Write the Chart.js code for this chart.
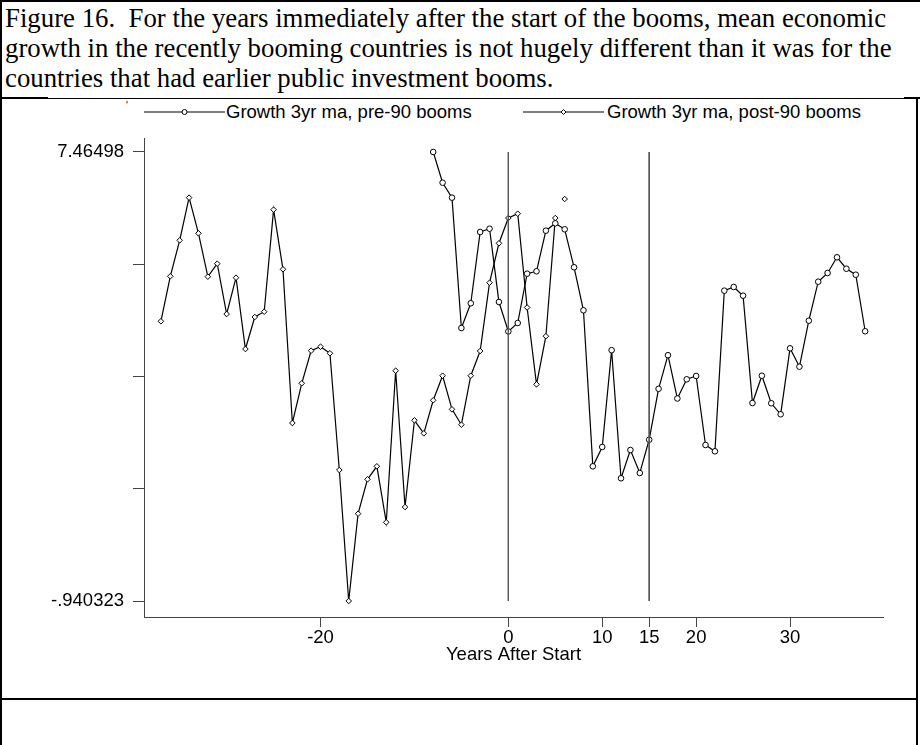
<!DOCTYPE html>
<html><head><meta charset="utf-8">
<script src="https://cdn.jsdelivr.net/npm/chart.js@4.4.0/dist/chart.umd.min.js"></script>
<style>
html,body{margin:0;padding:0;background:#fff;}
#page{position:relative;width:920px;height:745px;overflow:hidden;background:#fff;}
.b{position:absolute;background:#000;}
#title{position:absolute;left:5px;top:3px;font-family:'Liberation Serif','Times New Roman',serif;font-size:26.8px;line-height:30px;color:#000;white-space:nowrap;}
#chartwrap{position:absolute;left:10px;top:100px;width:906px;height:598px;}
.leg{position:absolute;top:101px;font-family:'Liberation Sans',Arial,sans-serif;font-size:18.5px;line-height:22px;white-space:nowrap;color:#000;}
.sym{position:absolute;top:107px;}
#stray{position:absolute;left:126px;top:100px;font-family:'Liberation Sans',Arial,sans-serif;font-size:10px;line-height:12px;color:#000;}
</style></head><body>
<div id="page">
 <div class="b" style="left:0px;top:0px;width:920px;height:2px"></div>
 <div class="b" style="left:0px;top:0px;width:2px;height:745px"></div>
 <div class="b" style="left:916px;top:97px;width:2px;height:648px"></div>
 <div class="b" style="left:2px;top:98px;width:902px;height:1px"></div>
 <div class="b" style="left:904px;top:97px;width:16px;height:2px"></div>
 <div class="b" style="left:2px;top:97px;width:46px;height:2px"></div>
 <div class="b" style="left:0px;top:698px;width:918px;height:2px"></div>
 <div id="title">Figure 16.&nbsp; For the years immediately after the start of the booms, mean economic<br>growth in the recently booming countries is not hugely different than it was for the<br>countries that had earlier public investment booms.</div>
 <div id="stray">'</div>
 <svg class="sym" style="left:144px" width="81" height="10"><line x1="0" y1="5" x2="81" y2="5" stroke="#000" stroke-width="1.2"/><circle cx="40.5" cy="5" r="2.5" fill="#fff" stroke="#000" stroke-width="1"/></svg>
 <div class="leg" id="leg1" style="left:226px"></div>
 <svg class="sym" style="left:523px" width="81" height="10"><line x1="0" y1="5" x2="81" y2="5" stroke="#000" stroke-width="1.2"/><path d="M40.5 2.5 L43 5 L40.5 7.5 L38 5 Z" fill="#fff" stroke="#000" stroke-width="1"/></svg>
 <div class="leg" id="leg2" style="left:607px"></div>
 <div id="chartwrap"><canvas id="c" width="906" height="598"></canvas></div>
</div>
<script>
// ---- data ----
const seriesNames = ['Growth 3yr ma, pre-90 booms', 'Growth 3yr ma, post-90 booms'];
const preYears = [-8,-7,-6,-5,-4,-3,-2,-1,0,1,2,3,4,5,6,7,8,9,10,11,12,13,14,15,16,17,18,19,20,21,22,23,24,25,26,27,28,29,30,31,32,33,34,35,36,37,38];
const preGrowth = [7.465,6.890,6.610,4.170,4.633,5.967,6.029,4.657,4.105,4.264,5.187,5.232,5.992,6.130,6.018,5.307,4.502,1.581,1.943,3.755,1.357,1.886,1.456,2.079,3.032,3.661,2.851,3.210,3.272,1.980,1.862,4.869,4.938,4.775,2.766,3.277,2.761,2.555,3.790,3.446,4.307,5.037,5.200,5.494,5.280,5.168,4.109];
const postYears = [-37,-36,-35,-34,-33,-32,-31,-30,-29,-28,-27,-26,-25,-24,-23,-22,-21,-20,-19,-18,-17,-16,-15,-14,-13,-12,-11,-10,-9,-8,-7,-6,-5,-4,-3,-2,-1,0,1,2,3,4,5,6];
const postGrowth = [4.296,5.138,5.812,6.610,5.943,5.131,5.374,4.432,5.112,3.777,4.376,4.475,6.385,5.269,2.392,3.135,3.745,3.820,3.697,1.512,-0.940,0.694,1.338,1.581,0.533,3.371,0.819,2.442,2.199,2.817,3.277,2.648,2.360,3.277,3.740,5.018,5.756,6.229,6.310,4.554,3.116,4.017,6.229,6.585];
const refYears = [0, 15];
const xTicks = [-20, 0, 10, 15, 20, 30];
const yTicks = [-0.940323, 1.16100, 3.26232, 5.36365, 7.46498];
const yTickLabels = ['-.940323', '', '', '', '7.46498'];
const xAxisTitle = 'Years After Start';
const xRange = [-38.8, 39.9];
const yRange = [-1.2398, 7.727];

document.getElementById('leg1').textContent = seriesNames[0];
document.getElementById('leg2').textContent = seriesNames[1];

const FONT = "'Liberation Sans', Arial, Helvetica, sans-serif";
Chart.defaults.font.family = FONT;
Chart.defaults.color = '#000';

const refSets = refYears.map(x => ({
  label: 'ref' + x,
  data: [{x: x, y: yTicks[yTicks.length - 1]}, {x: x, y: yTicks[0]}],
  borderColor: '#555', borderWidth: 1, pointRadius: 0, fill: false
}));

new Chart(document.getElementById('c'), {
  type: 'line',
  data: {
    datasets: [
      ...refSets,
      {
        label: seriesNames[0],
        data: preYears.map((x, i) => ({x: x, y: preGrowth[i]})),
        borderColor: '#000', borderWidth: 1.2, tension: 0, fill: false,
        pointStyle: 'circle', pointRadius: 2.8, pointBorderWidth: 1,
        pointBackgroundColor: '#fff', pointBorderColor: '#000'
      },
      {
        label: seriesNames[1],
        data: postYears.map((x, i) => ({x: x, y: postGrowth[i]})),
        borderColor: '#000', borderWidth: 1.2, tension: 0, fill: false,
        pointStyle: 'rectRot', pointRadius: 2.8, pointBorderWidth: 1,
        pointBackgroundColor: '#fff', pointBorderColor: '#000',
        segment: { borderColor: c => c.p1DataIndex === postYears.length - 1 ? 'rgba(0,0,0,0)' : '#000' }
      }
    ]
  },
  options: {
    responsive: false, animation: false,
    layout: { padding: { top: 38, right: 33, left: 0, bottom: 32 } },
    plugins: { legend: { display: false }, tooltip: { enabled: false } },
    scales: {
      x: {
        type: 'linear', min: xRange[0], max: xRange[1],
        afterBuildTicks: s => { s.ticks = xTicks.map(v => ({value: v})); },
        afterFit: s => { s.height = 49; },
        ticks: { font: { size: 18.5 }, color: '#000', padding: 0, maxRotation: 0, autoSkip: false, callback: v => String(v) },
        grid: { drawOnChartArea: false, drawTicks: true, tickLength: 10, color: '#444' },
        border: { display: true, color: '#444', width: 1 },
        title: { display: true, text: xAxisTitle, color: '#000', font: { size: 18.5 }, padding: { top: 0, bottom: 0 } }
      },
      y: {
        type: 'linear', min: yRange[0], max: yRange[1],
        afterBuildTicks: s => { s.ticks = yTicks.map(v => ({value: v})); },
        afterFit: s => { s.width = 134; },
        ticks: { font: { size: 18.5 }, color: '#000', padding: 9, autoSkip: false, callback: (v, i) => yTickLabels[i] },
        grid: { drawOnChartArea: false, drawTicks: true, tickLength: 11, color: '#444' },
        border: { display: true, color: '#444', width: 1 }
      }
    }
  }
});
</script>
</body></html>
